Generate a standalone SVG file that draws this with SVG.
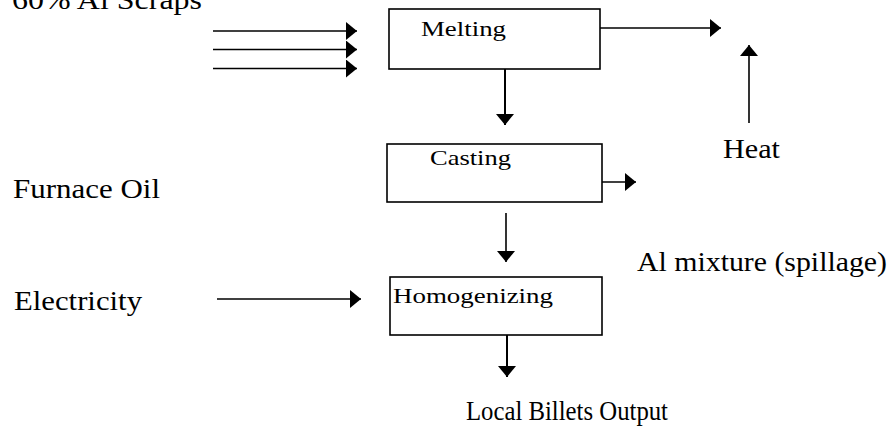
<svg xmlns="http://www.w3.org/2000/svg" width="890" height="430" viewBox="0 0 890 430">
  <style>
    .box { fill: #fff; stroke: #000; stroke-width: 1.6; }
    .step { font-family: "Liberation Serif", "Times New Roman", serif; font-size: 21px; fill: #000; }
    .label { font-family: "Liberation Serif", "Times New Roman", serif; font-size: 28px; fill: #000; }
    .flow { fill: none; stroke: #000; stroke-width: 1.6; marker-end: url(#head); }
    .flow.down { stroke-width: 2; }
  </style>
  <defs>
    <marker id="head" viewBox="0 0 11 18" refX="11" refY="9" markerWidth="11" markerHeight="18" markerUnits="userSpaceOnUse" orient="auto">
      <path d="M0,0 L11,9 L0,18 Z" fill="#000"/>
    </marker>
  </defs>

  <rect width="890" height="430" fill="#fff"/>

  <!-- connectors -->
  <g id="connectors">
    <line class="flow" x1="213" y1="31" x2="357" y2="31"/>
    <line class="flow" x1="213" y1="49.5" x2="357" y2="49.5"/>
    <line class="flow" x1="213" y1="68.5" x2="357" y2="68.5"/>
    <line class="flow" x1="600" y1="28" x2="721" y2="28"/>
    <line class="flow" x1="749" y1="123" x2="749" y2="45"/>
    <line class="flow down" x1="505" y1="69" x2="505" y2="125"/>
    <line class="flow" x1="602" y1="182" x2="636" y2="182"/>
    <line class="flow" x1="506" y1="213" x2="506" y2="262"/>
    <line class="flow" x1="217" y1="299" x2="361" y2="299"/>
    <line class="flow down" x1="507" y1="335" x2="507" y2="377"/>
  </g>

  <!-- process steps -->
  <g id="melting">
    <rect class="box" x="389" y="9" width="211" height="60"/>
    <text class="step" x="421" y="36" textLength="85" lengthAdjust="spacingAndGlyphs">Melting</text>
  </g>
  <g id="casting">
    <rect class="box" x="387" y="144" width="215" height="58"/>
    <text class="step" x="430" y="165" textLength="81" lengthAdjust="spacingAndGlyphs">Casting</text>
  </g>
  <g id="homogenizing">
    <rect class="box" x="390" y="277" width="212" height="58"/>
    <text class="step" x="393" y="303" textLength="160" lengthAdjust="spacingAndGlyphs">Homogenizing</text>
  </g>

  <!-- inputs and outputs -->
  <g id="scraps">
    <text class="label" x="12" y="9" textLength="190" lengthAdjust="spacingAndGlyphs">60% Al Scraps</text>
  </g>
  <g id="furnace-oil">
    <text class="label" x="13" y="198" textLength="147" lengthAdjust="spacingAndGlyphs">Furnace Oil</text>
  </g>
  <g id="electricity">
    <text class="label" x="14" y="310" textLength="128" lengthAdjust="spacingAndGlyphs">Electricity</text>
  </g>
  <g id="heat">
    <text class="label" x="723" y="158" textLength="57" lengthAdjust="spacingAndGlyphs">Heat</text>
  </g>
  <g id="spillage">
    <text class="label" x="637" y="271" textLength="250" lengthAdjust="spacingAndGlyphs">Al mixture (spillage)</text>
  </g>
  <g id="output">
    <text class="label" x="466" y="420" textLength="202" lengthAdjust="spacingAndGlyphs">Local Billets Output</text>
  </g>
</svg>
